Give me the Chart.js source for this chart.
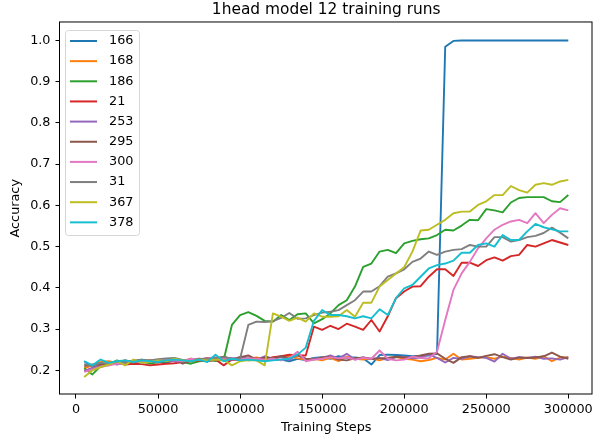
<!DOCTYPE html>
<html lang="en">
<head>
    <meta charset="UTF-8">
    <title>1head model 12 training runs</title>
    <script src="https://cdn.jsdelivr.net/npm/chart.js"></script>
    <style>
        html, body {
            margin: 0;
            padding: 0;
            background: #fff;
        }

        #wrap {
            width: 593px;
            height: 441px;
        }
    </style>
</head>
<body>
    <div id="wrap">
        <canvas id="runsChart" width="593" height="441"></canvas>
    </div>

    <script>
        // Training steps (x values)
        const steps = [5000, 10000, 15000, 20000, 25000, 30000, 35000, 40000, 45000, 50000,
            55000, 60000, 65000, 70000, 75000, 80000, 85000, 90000, 95000, 100000,
            105000, 110000, 115000, 120000, 125000, 130000, 135000, 140000, 145000, 150000,
            155000, 160000, 165000, 170000, 175000, 180000, 185000, 190000, 195000, 200000,
            205000, 210000, 215000, 220000, 225000, 230000, 235000, 240000, 245000, 250000,
            255000, 260000, 265000, 270000, 275000, 280000, 285000, 290000, 295000, 300000];

        // Accuracy per run
        const run166 = [0.222, 0.208, 0.212, 0.218, 0.220, 0.218, 0.222, 0.220, 0.222, 0.221,
            0.219, 0.224, 0.222, 0.226, 0.224, 0.228, 0.223, 0.227, 0.226, 0.229,
            0.224, 0.226, 0.228, 0.225, 0.226, 0.222, 0.228, 0.225, 0.230, 0.232,
            0.228, 0.234, 0.230, 0.231, 0.229, 0.214, 0.237, 0.238, 0.237, 0.236,
            0.234, 0.235, 0.236, 0.240, 0.985, 0.999, 1.000, 1.000, 1.000, 1.000,
            1.000, 1.000, 1.000, 1.000, 1.000, 1.000, 1.000, 1.000, 1.000, 1.000];
        const run168 = [0.205, 0.212, 0.220, 0.222, 0.218, 0.224, 0.220, 0.221, 0.225, 0.222,
            0.226, 0.224, 0.222, 0.228, 0.225, 0.226, 0.229, 0.224, 0.230, 0.226,
            0.228, 0.231, 0.226, 0.229, 0.233, 0.235, 0.229, 0.226, 0.228, 0.224,
            0.230, 0.222, 0.233, 0.228, 0.226, 0.229, 0.224, 0.230, 0.232, 0.228,
            0.226, 0.222, 0.225, 0.230, 0.226, 0.240, 0.226, 0.228, 0.230, 0.232,
            0.228, 0.233, 0.230, 0.226, 0.231, 0.228, 0.234, 0.222, 0.231, 0.232];
        const run186 = [0.205, 0.190, 0.210, 0.215, 0.224, 0.218, 0.220, 0.222, 0.216, 0.220,
            0.222, 0.224, 0.220, 0.216, 0.222, 0.224, 0.223, 0.225, 0.310, 0.334,
            0.341, 0.332, 0.320, 0.318, 0.334, 0.322, 0.336, 0.338, 0.314, 0.324,
            0.338, 0.358, 0.370, 0.403, 0.451, 0.459, 0.488, 0.492, 0.484, 0.508,
            0.514, 0.518, 0.520, 0.528, 0.541, 0.539, 0.551, 0.565, 0.564, 0.591,
            0.588, 0.583, 0.607, 0.618, 0.620, 0.620, 0.620, 0.610, 0.608, 0.625];
        const run21 = [0.198, 0.205, 0.212, 0.216, 0.218, 0.214, 0.216, 0.215, 0.212, 0.214,
            0.216, 0.217, 0.220, 0.222, 0.224, 0.222, 0.226, 0.212, 0.226, 0.224,
            0.228, 0.229, 0.226, 0.232, 0.234, 0.238, 0.236, 0.236, 0.306, 0.298,
            0.308, 0.300, 0.313, 0.306, 0.298, 0.322, 0.294, 0.331, 0.375, 0.391,
            0.403, 0.404, 0.427, 0.445, 0.445, 0.429, 0.461, 0.461, 0.453, 0.467,
            0.474, 0.466, 0.477, 0.480, 0.504, 0.500, 0.508, 0.516, 0.510, 0.504];
        const run253 = [0.198, 0.206, 0.210, 0.218, 0.214, 0.220, 0.222, 0.218, 0.223, 0.221,
            0.224, 0.222, 0.220, 0.226, 0.228, 0.224, 0.227, 0.230, 0.226, 0.232,
            0.229, 0.226, 0.234, 0.228, 0.232, 0.225, 0.238, 0.226, 0.228, 0.230,
            0.236, 0.229, 0.240, 0.226, 0.231, 0.228, 0.230, 0.225, 0.232, 0.233,
            0.229, 0.231, 0.238, 0.230, 0.219, 0.230, 0.228, 0.234, 0.232, 0.230,
            0.221, 0.240, 0.228, 0.232, 0.230, 0.233, 0.228, 0.229, 0.226, 0.232];
        const run295 = [0.210, 0.214, 0.216, 0.212, 0.220, 0.224, 0.218, 0.226, 0.222, 0.219,
            0.225, 0.228, 0.216, 0.224, 0.226, 0.230, 0.228, 0.233, 0.227, 0.232,
            0.236, 0.226, 0.231, 0.229, 0.234, 0.230, 0.236, 0.228, 0.226, 0.231,
            0.233, 0.226, 0.224, 0.229, 0.231, 0.227, 0.229, 0.230, 0.233, 0.231,
            0.232, 0.236, 0.240, 0.241, 0.228, 0.218, 0.232, 0.234, 0.230, 0.235,
            0.239, 0.232, 0.226, 0.231, 0.230, 0.231, 0.234, 0.243, 0.233, 0.228];
        const run300 = [0.196, 0.202, 0.208, 0.212, 0.216, 0.218, 0.222, 0.220, 0.224, 0.222,
            0.226, 0.224, 0.222, 0.228, 0.226, 0.229, 0.232, 0.228, 0.230, 0.227,
            0.229, 0.228, 0.226, 0.228, 0.224, 0.230, 0.245, 0.222, 0.226, 0.228,
            0.232, 0.229, 0.231, 0.226, 0.230, 0.228, 0.248, 0.228, 0.224, 0.226,
            0.233, 0.230, 0.229, 0.245, 0.322, 0.395, 0.435, 0.463, 0.496, 0.520,
            0.541, 0.553, 0.561, 0.565, 0.557, 0.581, 0.557, 0.577, 0.593, 0.588];
        const run31 = [0.215, 0.210, 0.218, 0.216, 0.222, 0.219, 0.224, 0.226, 0.224, 0.227,
            0.229, 0.230, 0.225, 0.221, 0.228, 0.227, 0.230, 0.232, 0.229, 0.228,
            0.310, 0.318, 0.317, 0.319, 0.327, 0.339, 0.325, 0.326, 0.334, 0.340,
            0.342, 0.346, 0.358, 0.370, 0.391, 0.391, 0.404, 0.427, 0.435, 0.445,
            0.463, 0.471, 0.488, 0.480, 0.488, 0.492, 0.494, 0.504, 0.500, 0.500,
            0.523, 0.523, 0.512, 0.516, 0.523, 0.526, 0.533, 0.546, 0.534, 0.520];
        const run367 = [0.184, 0.200, 0.208, 0.214, 0.222, 0.212, 0.226, 0.218, 0.220, 0.224,
            0.222, 0.228, 0.224, 0.222, 0.226, 0.224, 0.226, 0.225, 0.212, 0.222,
            0.225, 0.224, 0.212, 0.338, 0.330, 0.320, 0.328, 0.318, 0.338, 0.330,
            0.330, 0.331, 0.346, 0.330, 0.364, 0.364, 0.403, 0.419, 0.435, 0.450,
            0.488, 0.539, 0.541, 0.553, 0.565, 0.581, 0.585, 0.585, 0.601, 0.610,
            0.625, 0.625, 0.647, 0.637, 0.631, 0.650, 0.654, 0.650, 0.658, 0.662];
        const run378 = [0.222, 0.212, 0.226, 0.218, 0.222, 0.224, 0.220, 0.224, 0.222, 0.220,
            0.224, 0.226, 0.224, 0.222, 0.226, 0.220, 0.238, 0.222, 0.228, 0.224,
            0.226, 0.224, 0.222, 0.224, 0.226, 0.228, 0.238, 0.255, 0.320, 0.346,
            0.334, 0.334, 0.331, 0.326, 0.331, 0.326, 0.348, 0.334, 0.375, 0.399,
            0.407, 0.427, 0.447, 0.455, 0.459, 0.466, 0.485, 0.485, 0.504, 0.508,
            0.500, 0.528, 0.516, 0.516, 0.537, 0.555, 0.547, 0.542, 0.537, 0.537];

        const runNames = ['166', '168', '186', '21', '253', '295', '300', '31', '367', '378'];
        const runValues = [run166, run168, run186, run21, run253, run295, run300, run31, run367, run378];
        const runColors = ['#1f77b4', '#ff7f0e', '#2ca02c', '#d62728', '#9467bd',
            '#8c564b', '#e377c2', '#7f7f7f', '#bcbd22', '#17becf'];

        const xTicks = [0, 50000, 100000, 150000, 200000, 250000, 300000];
        const yTicks = [0.2, 0.3, 0.4, 0.5, 0.6, 0.7, 0.8, 0.9, 1.0];

        const FONT = 'DejaVu Sans';
        Chart.defaults.font.family = FONT;
        Chart.defaults.color = '#000';

        // Full box around the plot area (matplotlib spines)
        const frame = {
            id: 'frame',
            afterDatasetsDraw(chart) {
                const { ctx, chartArea: a } = chart;
                ctx.save();
                ctx.strokeStyle = '#000';
                ctx.lineWidth = 1;
                ctx.strokeRect(a.left - 0.5, a.top - 0.5, a.right - a.left, a.bottom - a.top + 0.5);
                ctx.restore();
            }
        };

        // Legend drawn inside the plot, upper left
        const boxLegend = {
            id: 'boxLegend',
            afterDraw(chart) {
                const ctx = chart.ctx;
                ctx.save();
                ctx.beginPath();
                ctx.roundRect(65.5, 30.5, 74, 205, 3);
                ctx.fillStyle = 'rgba(255,255,255,0.8)';
                ctx.fill();
                ctx.strokeStyle = '#d6d6d6';
                ctx.lineWidth = 1;
                ctx.stroke();
                ctx.font = '12.8px "' + FONT + '"';
                ctx.textBaseline = 'middle';
                chart.data.datasets.forEach((ds, i) => {
                    const y = 41 + i * 20.15;
                    ctx.beginPath();
                    ctx.moveTo(70, y);
                    ctx.lineTo(97, y);
                    ctx.strokeStyle = ds.borderColor;
                    ctx.lineWidth = 2;
                    ctx.stroke();
                    ctx.fillStyle = '#000';
                    ctx.fillText(ds.label, 109, y);
                });
                ctx.restore();
            }
        };

        const datasets = runNames.map((name, i) => ({
            label: name,
            data: steps.map((s, j) => ({ x: s, y: runValues[i][j] })),
            borderColor: runColors[i],
            backgroundColor: runColors[i],
            borderWidth: 1.9,
            borderJoinStyle: 'round',
            pointRadius: 0,
            tension: 0,
            fill: false,
            order: runNames.length - i
        }));

        const ctx = document.getElementById('runsChart').getContext('2d');
        new Chart(ctx, {
            type: 'line',
            data: { datasets: datasets },
            plugins: [frame, boxLegend],
            options: {
                responsive: false,
                animation: false,
                devicePixelRatio: 1,
                layout: { padding: { left: 0, right: 0.5, top: 0, bottom: 0 } },
                scales: {
                    x: {
                        type: 'linear',
                        min: -9750,
                        max: 314750,
                        afterBuildTicks: s => { s.ticks = xTicks.map(v => ({ value: v })); },
                        afterFit: s => { s.height = 47; s.paddingLeft = 0; s.paddingRight = 0; },
                        grid: { display: true, drawOnChartArea: false, drawTicks: true, tickLength: 4.5, color: '#000' },
                        border: { display: false },
                        ticks: {
                            maxRotation: 0,
                            autoSkip: false,
                            padding: 3,
                            font: { size: 12.8 },
                            callback: v => String(v)
                        },
                        title: {
                            display: true,
                            text: 'Training Steps',
                            font: { size: 12.8 },
                            padding: { top: 0, bottom: 5.5 }
                        }
                    },
                    y: {
                        min: 0.1425,
                        max: 1.0437,
                        afterBuildTicks: s => { s.ticks = yTicks.map(v => ({ value: v })); },
                        afterFit: s => { s.width = 60; s.paddingTop = 0; s.paddingBottom = 0; },
                        grid: { display: true, drawOnChartArea: false, drawTicks: true, tickLength: 4.5, color: '#000' },
                        border: { display: false },
                        ticks: {
                            padding: 5,
                            font: { size: 12.8 },
                            callback: v => v.toFixed(1)
                        },
                        title: {
                            display: true,
                            text: 'Accuracy',
                            font: { size: 12.8 },
                            padding: { top: 8.3, bottom: 0 }
                        }
                    }
                },
                plugins: {
                    legend: { display: false },
                    tooltip: { enabled: false },
                    title: {
                        display: true,
                        fullSize: false,
                        text: '1head model 12 training runs',
                        font: { size: 15.4, weight: 'normal' },
                        padding: { top: 1, bottom: 3 }
                    }
                }
            }
        });
    </script>
</body>
</html>
